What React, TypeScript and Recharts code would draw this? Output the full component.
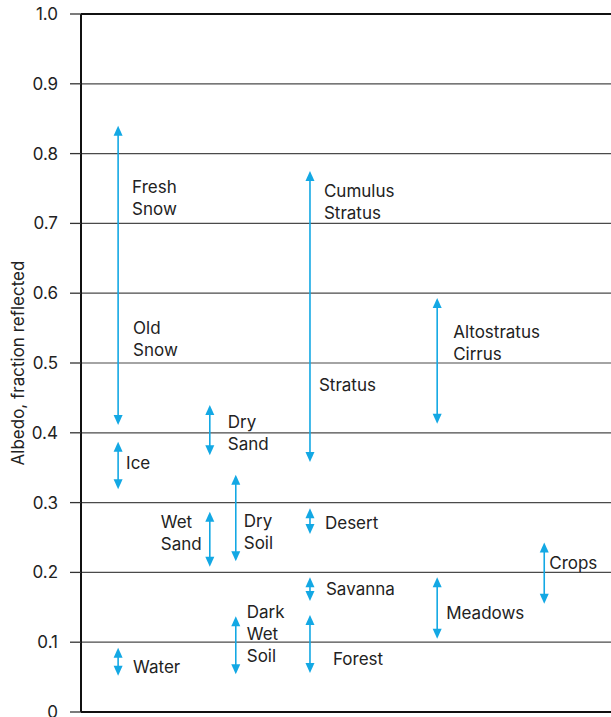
import React from "react";
import {
  ComposedChart,
  Bar,
  Scatter,
  XAxis,
  YAxis,
  CartesianGrid,
  ReferenceLine,
} from "recharts";

// albedo ranges, one double-headed arrow each
const arrowNames = [
  "Snow", "Ice", "Water", "Dry Sand", "Wet Sand", "Dry Soil", "Dark Wet Soil",
  "Clouds", "Altostratus Cirrus", "Desert", "Savanna", "Forest", "Meadows", "Crops",
];
const arrowColumn = [7, 7, 7, 24.3, 24.3, 29.2, 29.2, 43.2, 67.2, 43.2, 43.2, 43.2, 67.2, 87.4];
const albedoHigh = [0.84, 0.387, 0.092, 0.44, 0.287, 0.34, 0.137, 0.775, 0.593, 0.292, 0.193, 0.139, 0.193, 0.243];
const albedoLow = [0.411, 0.319, 0.052, 0.368, 0.208, 0.216, 0.054, 0.358, 0.413, 0.255, 0.159, 0.056, 0.105, 0.155];

// labels next to the arrows
const labelText = [
  "Fresh\nSnow", "Old\nSnow", "Ice", "Water", "Dry\nSand", "Wet\nSand", "Dry\nSoil",
  "Dark\nWet\nSoil", "Cumulus\nStratus", "Stratus", "Altostratus\nCirrus", "Desert",
  "Savanna", "Meadows", "Forest", "Crops",
];
const labelColumn = [7, 7, 7, 7, 24.3, 24.3, 29.2, 29.2, 43.2, 43.2, 67.2, 43.2, 43.2, 67.2, 43.2, 87.4];
const labelAlbedo = [0.736, 0.534, 0.357, 0.064, 0.399, 0.257, 0.258, 0.112, 0.73, 0.468, 0.529, 0.271, 0.176, 0.142, 0.076, 0.213];

const yTicks = [0, 0.1, 0.2, 0.3, 0.4, 0.5, 0.6, 0.7, 0.8, 0.9, 1.0];

// layout: horizontal pixel offset of each label from its arrow
const labelDx = [14, 15, 8, 15, 18, -49, 8, 11, 14, 9, 16, 15, 16, 9, 23, 5];

const BLUE = "#13a8e4";
const TEXT = "#222";
const LINE_H = 22;

const arrowData = arrowNames.map((name, i) => ({
  name,
  x: arrowColumn[i],
  range: [albedoLow[i], albedoHigh[i]],
}));

const labelData = labelText.map((text, i) => ({
  text,
  x: labelColumn[i],
  y: labelAlbedo[i],
  dx: labelDx[i],
}));

const Arrow = (props: any) => {
  const { x, y, width, height } = props;
  if (height == null || isNaN(y)) return null;
  const cx = x + width / 2;
  const top = Math.min(y, y + height);
  const bot = Math.max(y, y + height);
  const hl = 10;
  const hw = 4.5;
  return (
    <g>
      <line x1={cx} y1={top + 6} x2={cx} y2={bot - 6} stroke={BLUE} strokeWidth={1.6} />
      <polygon points={`${cx},${top} ${cx - hw},${top + hl} ${cx + hw},${top + hl}`} fill={BLUE} />
      <polygon points={`${cx},${bot} ${cx - hw},${bot - hl} ${cx + hw},${bot - hl}`} fill={BLUE} />
    </g>
  );
};

const Label = (props: any) => {
  const { cx, cy, payload } = props;
  const lines: string[] = payload.text.split("\n");
  const lx = cx + payload.dx;
  const y0 = cy - ((lines.length - 1) * LINE_H) / 2;
  return (
    <text x={lx} y={y0} fill={TEXT} fontSize={17} dominantBaseline="central">
      {lines.map((l, i) => (
        <tspan key={i} x={lx} y={y0 + i * LINE_H}>
          {l}
        </tspan>
      ))}
    </text>
  );
};

export default function App() {
  return (
    <div style={{ position: "absolute", left: 0, top: 0, fontFamily: "Inter, sans-serif" }}>
      <ComposedChart
        width={611}
        height={717}
        data={arrowData}
        margin={{ top: 14, right: 0, bottom: 5, left: 0 }}
      >
        <CartesianGrid vertical={false} stroke="#4a4a4a" strokeWidth={1.2} />
        <XAxis type="number" dataKey="x" domain={[0, 100]} hide />
        <YAxis
          type="number"
          domain={[0, 1]}
          ticks={yTicks}
          width={81}
          tickSize={11}
          tickMargin={12}
          interval={0}
          tickFormatter={(v: number) => (v === 0 ? "0" : v.toFixed(1))}
          tick={{ fontSize: 17, fill: TEXT }}
          tickLine={{ stroke: "#333", strokeWidth: 1.3 }}
          axisLine={{ stroke: "#111", strokeWidth: 2 }}
          label={{
            value: "Albedo, fraction reflected",
            angle: -90,
            position: "center",
            dx: -23,
            fontSize: 17,
            fill: TEXT,
          }}
        />
        <ReferenceLine y={1} stroke="#111" strokeWidth={2} />
        <ReferenceLine y={0} stroke="#111" strokeWidth={2} />
        <Bar dataKey="range" barSize={10} shape={Arrow} isAnimationActive={false} />
        <Scatter data={labelData} dataKey="y" shape={Label} isAnimationActive={false} />
      </ComposedChart>
    </div>
  );
}
